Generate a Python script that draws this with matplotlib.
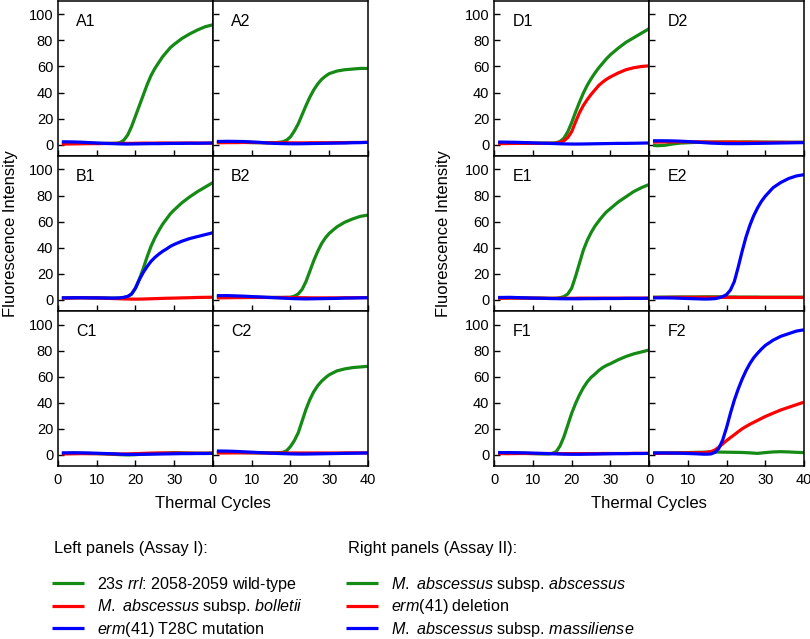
import matplotlib
matplotlib.use("Agg")
import matplotlib.pyplot as plt

plt.rcParams['font.family'] = 'Liberation Sans'
plt.rcParams['mathtext.fontset'] = 'custom'
plt.rcParams['mathtext.rm'] = 'Liberation Sans'
plt.rcParams['mathtext.it'] = 'Liberation Sans:italic'

cycles = [1, 2, 4, 6, 8, 10, 12, 14,
          15, 16, 17, 18, 19, 20, 21, 22, 23, 24, 25, 26, 27, 28, 29, 30,
          32, 34, 36, 38, 40]

# Assay I (left panels)
a1_green = [1.5, 1.5, 1.4, 1.3, 1.2, 1.0, 1.0, 1.0,
            1.1, 1.6, 3.5, 7.5, 14, 22, 30, 38, 46, 53, 58.5, 63, 67.5, 71, 74.5, 77,
            81.5, 85, 88, 90.5, 92]
a1_red = [0.5, 0.5, 0.6, 0.7, 0.8, 0.8, 0.9, 1.0,
          1.0, 1.0, 1.0, 1.0, 1.0, 1.1, 1.1, 1.2, 1.2, 1.2, 1.2, 1.3, 1.3, 1.3, 1.3, 1.2,
          1.3, 1.3, 1.2, 1.2, 1.2]
a1_blue = [2.2, 2.2, 2.1, 1.9, 1.6, 1.3, 1.0, 0.8,
           0.7, 0.6, 0.55, 0.5, 0.55, 0.6, 0.65, 0.7, 0.75, 0.8, 0.8, 0.8, 0.85, 0.9, 0.95, 1.0,
           1.0, 1.1, 1.1, 1.2, 1.3]

a2_green = [2.0, 2.0, 2.0, 1.9, 1.8, 1.6, 1.5, 1.5,
            1.5, 1.5, 1.8, 2.2, 3.5, 6, 10.5, 16, 23, 30, 36.5, 42, 46.5, 50, 52.5, 54.5,
            56.5, 57.5, 58, 58.5, 58.5]
a2_red = [1.5, 1.5, 1.6, 1.6, 1.7, 1.7, 1.6, 1.5,
          1.5, 1.5, 1.5, 1.5, 1.5, 1.4, 1.4, 1.4, 1.4, 1.4, 1.5, 1.5, 1.5, 1.5, 1.5, 1.5,
          1.6, 1.6, 1.7, 1.7, 1.8]
a2_blue = [2.5, 2.5, 2.6, 2.5, 2.4, 2.1, 1.8, 1.3,
           1.15, 1.0, 0.9, 0.8, 0.75, 0.7, 0.7, 0.7, 0.75, 0.8, 0.85, 0.9, 0.95, 1.0, 1.05, 1.1,
           1.2, 1.3, 1.5, 1.6, 1.8]

b1_green = [1.5, 1.5, 1.6, 1.7, 1.6, 1.5, 1.4, 1.3,
            1.3, 1.4, 1.8, 2.5, 4.5, 9, 16, 24, 33, 41, 47.5, 53, 58, 62, 66, 69,
            74.5, 79, 83, 86.5, 90]
b1_red = [1.3, 1.3, 1.4, 1.5, 1.5, 1.4, 1.2, 1.0,
          0.9, 0.8, 0.7, 0.6, 0.55, 0.5, 0.55, 0.6, 0.7, 0.8, 0.9, 1.0, 1.1, 1.2, 1.25, 1.3,
          1.5, 1.6, 1.8, 1.9, 2.0]
b1_blue = [1.5, 1.5, 1.6, 1.6, 1.5, 1.5, 1.4, 1.3,
           1.4, 1.5, 1.9, 2.6, 4.5, 9, 15.5, 21, 25.5, 29.5, 32.5, 35, 37.2, 39, 41, 42.5,
           45, 47, 48.5, 50, 51.5]

b2_green = [2.5, 2.5, 2.4, 2.3, 2.2, 2.0, 1.9, 1.8,
            1.8, 1.8, 1.8, 1.8, 1.9, 2.0, 2.8, 4.5, 8, 14, 22, 30, 37, 43, 47.5, 51,
            56, 59.5, 62, 64, 65]
b2_red = [1.5, 1.5, 1.6, 1.7, 1.7, 1.8, 1.8, 1.8,
          1.8, 1.8, 1.8, 1.8, 1.8, 1.7, 1.7, 1.7, 1.6, 1.6, 1.5, 1.5, 1.5, 1.5, 1.5, 1.5,
          1.5, 1.6, 1.6, 1.7, 1.7]
b2_blue = [3.2, 3.2, 3.2, 3.0, 2.8, 2.5, 2.2, 1.9,
           1.75, 1.6, 1.45, 1.3, 1.15, 1.0, 0.9, 0.8, 0.75, 0.7, 0.75, 0.8, 0.85, 0.9, 0.95, 1.0,
           1.1, 1.3, 1.4, 1.5, 1.6]

c1_green = [1.2, 1.2, 1.3, 1.2, 1.1, 1.0, 0.8, 0.5,
            0.35, 0.2, 0.1, 0.0, 0.1, 0.2, 0.4, 0.6, 0.8, 1.0, 1.1, 1.2, 1.3, 1.4, 1.6, 1.8,
            1.6, 1.4, 1.3, 1.3, 1.4]
c1_red = [0.8, 0.8, 0.9, 1.0, 1.0, 1.0, 0.9, 0.8,
          0.75, 0.7, 0.75, 0.8, 0.9, 1.0, 1.1, 1.2, 1.3, 1.4, 1.45, 1.5, 1.5, 1.5, 1.5, 1.5,
          1.4, 1.4, 1.3, 1.3, 1.3]
c1_blue = [1.6, 1.6, 1.7, 1.6, 1.5, 1.3, 1.1, 0.9,
           0.75, 0.6, 0.5, 0.4, 0.4, 0.4, 0.45, 0.5, 0.55, 0.6, 0.65, 0.7, 0.75, 0.8, 0.85, 0.9,
           1.0, 1.0, 1.1, 1.1, 1.2]

c2_green = [2.0, 2.0, 2.0, 1.9, 1.8, 1.7, 1.6, 1.6,
            1.6, 1.7, 1.8, 2.0, 3.2, 6.5, 11, 17, 26, 35, 42.5, 48.5, 53, 56.5, 59.2, 61.5,
            64.5, 66, 67, 67.5, 68]
c2_red = [1.5, 1.5, 1.5, 1.6, 1.6, 1.6, 1.6, 1.5,
          1.5, 1.5, 1.5, 1.5, 1.5, 1.5, 1.5, 1.5, 1.5, 1.5, 1.5, 1.5, 1.5, 1.5, 1.5, 1.5,
          1.5, 1.6, 1.6, 1.6, 1.6]
c2_blue = [3.0, 3.0, 2.9, 2.7, 2.4, 2.1, 1.8, 1.5,
           1.35, 1.2, 1.1, 1.0, 0.9, 0.8, 0.75, 0.7, 0.7, 0.7, 0.75, 0.8, 0.85, 0.9, 0.95, 1.0,
           1.1, 1.2, 1.3, 1.4, 1.5]

# Assay II (right panels)
d1_green = [1.5, 1.5, 1.4, 1.3, 1.2, 1.1, 1.1, 1.2,
            1.2, 1.5, 2.5, 5, 10, 17, 25, 32.5, 39.5, 45.5, 50.5, 55, 59, 62.5, 66, 69,
            74, 78.5, 82, 85.5, 89]
d1_red = [0.8, 0.8, 0.9, 1.0, 1.0, 1.0, 1.0, 1.1,
          1.1, 1.2, 1.8, 3, 5.5, 10, 17.5, 24.5, 30, 34.5, 38.5, 42, 45.5, 48, 50.2, 52,
          55, 57.5, 59, 60, 60.5]
d1_blue = [2.0, 2.0, 1.9, 1.8, 1.6, 1.4, 1.2, 1.0,
           0.9, 0.8, 0.7, 0.6, 0.55, 0.5, 0.5, 0.5, 0.55, 0.6, 0.65, 0.7, 0.75, 0.8, 0.85, 0.9,
           1.0, 1.0, 1.1, 1.2, 1.3]

d2_green = [-0.5, -0.8, -0.5, 0.5, 1.2, 1.5, 1.8, 2.0,
            2.0, 2.0, 2.0, 2.0, 2.0, 2.0, 2.0, 2.0, 2.0, 2.1, 2.1, 2.1, 2.0, 2.0, 2.0, 2.0,
            1.9, 1.9, 1.8, 1.8, 1.8]
d2_red = [2.0, 2.0, 2.1, 2.1, 2.2, 2.2, 2.2, 2.1,
          2.0, 2.0, 2.0, 2.0, 2.0, 2.0, 2.0, 2.0, 1.9, 1.9, 1.9, 1.9, 1.9, 1.9, 1.8, 1.8,
          1.8, 1.8, 1.8, 1.8, 1.8]
d2_blue = [3.0, 3.0, 3.0, 2.9, 2.7, 2.4, 2.0, 1.6,
           1.4, 1.2, 1.1, 1.0, 0.9, 0.8, 0.8, 0.8, 0.8, 0.8, 0.85, 0.9, 0.95, 1.0, 1.05, 1.1,
           1.2, 1.3, 1.4, 1.5, 1.6]

e1_green = [1.5, 1.5, 1.6, 1.5, 1.4, 1.3, 1.2, 1.1,
            1.1, 1.2, 1.6, 2.5, 4.5, 9, 18, 28, 38, 45.5, 51.5, 56.5, 60.5, 64.2, 67.5, 70,
            75, 79, 83, 86, 88.5]
e1_red = [1.2, 1.2, 1.3, 1.3, 1.3, 1.3, 1.3, 1.2,
          1.2, 1.2, 1.2, 1.2, 1.2, 1.2, 1.2, 1.3, 1.3, 1.3, 1.3, 1.3, 1.3, 1.3, 1.3, 1.3,
          1.3, 1.3, 1.3, 1.3, 1.3]
e1_blue = [1.8, 1.8, 1.9, 1.7, 1.5, 1.3, 1.2, 1.0,
           0.95, 0.9, 0.85, 0.8, 0.8, 0.8, 0.8, 0.8, 0.85, 0.9, 0.9, 0.9, 0.95, 1.0, 1.0, 1.0,
           1.0, 1.1, 1.1, 1.1, 1.2]

e2_green = [2.0, 2.0, 2.1, 2.1, 2.2, 2.2, 2.2, 2.3,
            2.3, 2.3, 2.3, 2.3, 2.3, 2.2, 2.2, 2.2, 2.1, 2.1, 2.1, 2.1, 2.1, 2.1, 2.0, 2.0,
            2.0, 2.0, 2.0, 2.0, 2.0]
e2_red = [1.8, 1.8, 1.8, 1.9, 1.9, 1.9, 1.9, 1.9,
          1.9, 1.9, 1.9, 1.9, 1.9, 1.8, 1.8, 1.8, 1.8, 1.8, 1.8, 1.8, 1.8, 1.8, 1.8, 1.8,
          1.8, 1.8, 1.8, 1.8, 1.8]
e2_blue = [1.5, 1.5, 1.5, 1.4, 1.2, 1.0, 0.8, 0.6,
           0.6, 0.7, 0.9, 1.5, 2.5, 4, 7.5, 14, 25, 37, 48, 57, 64.5, 70.5, 75.5, 79.5,
           86, 90, 93, 95, 96]

f1_green = [1.5, 1.5, 1.4, 1.3, 1.2, 1.0, 0.8, 0.8,
            1.2, 2.5, 7, 14, 23, 32, 39.5, 46, 51.5, 56, 59.5, 62, 64.8, 67, 68.7, 70,
            73, 75.5, 77.5, 79, 80.5]
f1_red = [1.0, 1.0, 1.0, 1.1, 1.1, 1.1, 1.1, 1.1,
          1.1, 1.1, 1.0, 1.0, 1.0, 1.0, 1.0, 1.0, 1.0, 1.0, 1.0, 1.0, 1.05, 1.1, 1.1, 1.1,
          1.1, 1.1, 1.2, 1.2, 1.2]
f1_blue = [1.8, 1.8, 1.8, 1.7, 1.6, 1.4, 1.2, 1.0,
           0.9, 0.8, 0.7, 0.6, 0.55, 0.5, 0.5, 0.5, 0.55, 0.6, 0.65, 0.7, 0.75, 0.8, 0.85, 0.9,
           1.0, 1.0, 1.1, 1.1, 1.2]

f2_green = [1.5, 1.5, 1.6, 1.6, 1.7, 1.8, 2.0, 2.1,
            2.15, 2.2, 2.2, 2.2, 2.15, 2.1, 2.05, 2.0, 1.95, 1.9, 1.75, 1.6, 1.4, 1.2, 1.5, 1.8,
            2.3, 2.5, 2.3, 2.0, 1.8]
f2_red = [1.2, 1.2, 1.3, 1.4, 1.5, 1.6, 1.7, 1.8,
          2.1, 2.6, 3.8, 6, 8.5, 11, 13.3, 15.5, 17.8, 20, 21.8, 23.5, 25, 26.5, 28, 29.5,
          32, 34.5, 36.5, 38.5, 40.5]
f2_blue = [1.5, 1.5, 1.5, 1.4, 1.3, 1.1, 0.9, 0.6,
           0.6, 0.8, 2, 5, 11.5, 21, 32, 42, 50.5, 58, 64.5, 70, 74.5, 78, 81.2, 84,
           88, 91, 93, 95, 96]

left_panels = [["A1", "A2"], ["B1", "B2"], ["C1", "C2"]]
right_panels = [["D1", "D2"], ["E1", "E2"], ["F1", "F2"]]
series = {
    "A1": (a1_green, a1_red, a1_blue), "A2": (a2_green, a2_red, a2_blue),
    "B1": (b1_green, b1_red, b1_blue), "B2": (b2_green, b2_red, b2_blue),
    "C1": (c1_green, c1_red, c1_blue), "C2": (c2_green, c2_red, c2_blue),
    "D1": (d1_green, d1_red, d1_blue), "D2": (d2_green, d2_red, d2_blue),
    "E1": (e1_green, e1_red, e1_blue), "E2": (e2_green, e2_red, e2_blue),
    "F1": (f1_green, f1_red, f1_blue), "F2": (f2_green, f2_red, f2_blue),
}

left_labels = [r"$\mathit{23s\ rrl}$: 2058-2059 wild-type",
               r"$\mathit{M.\ abscessus}$ subsp. $\mathit{bolletii}$",
               r"$\mathit{erm}$(41) T28C mutation"]
right_labels = [r"$\mathit{M.\ abscessus}$ subsp. $\mathit{abscessus}$",
                r"$\mathit{erm}$(41) deletion",
                r"$\mathit{M.\ abscessus}$ subsp. $\mathit{massiliense}$"]

colors = ["#158a15", "#ff0000", "#0000ff"]

fig = plt.figure(figsize=(8.1, 6.39), dpi=100)


def draw_group(panels, left, right):
    gs = fig.add_gridspec(3, 2, left=left, right=right, top=0.999, bottom=0.2707,
                          wspace=0, hspace=0)
    lines = None
    for r in range(3):
        for c in range(2):
            name = panels[r][c]
            ax = fig.add_subplot(gs[r, c])
            lines = []
            for vals, col in zip(series[name], colors):
                ln, = ax.plot(cycles, vals, color=col, lw=2.3, solid_capstyle='butt')
                lines.append(ln)
            ax.set_xlim(0, 40)
            ax.set_ylim(-8.5, 110.5)
            ax.set_yticks([0, 20, 40, 60, 80, 100])
            ax.set_xticks([0, 10, 20, 30] if c == 0 else [0, 10, 20, 30, 40])
            ax.tick_params(direction='in', length=4.5, width=1, labelsize=10.5, pad=3.5,
                           labelleft=(c == 0), labelbottom=(r == 2))
            ax.tick_params(axis='x', pad=5)
            for sp in ax.spines.values():
                sp.set_linewidth(1.1)
            ax.text(0.117, 0.868, name, transform=ax.transAxes, fontsize=11.5,
                    va='center', ha='left')
    return lines


left_lines = draw_group(left_panels, 0.0716, 0.4543)
right_lines = draw_group(right_panels, 0.6102, 0.9926)

fig.text(0.263, 0.2128, "Thermal Cycles", ha='center', va='center', fontsize=12)
fig.text(0.801, 0.2128, "Thermal Cycles", ha='center', va='center', fontsize=12)
fig.text(0.0135, 0.635, "Fluorescence Intensity", rotation=90, ha='center', va='center', fontsize=12)
fig.text(0.548, 0.635, "Fluorescence Intensity", rotation=90, ha='center', va='center', fontsize=12)

fig.text(0.0667, 0.1424, "Left panels (Assay I):", ha='left', va='center', fontsize=11.8)
fig.text(0.4296, 0.1424, "Right panels (Assay II):", ha='left', va='center', fontsize=11.8)

legend_kw = dict(loc='upper left', frameon=False, fontsize=11.6, handlelength=2.0,
                 handletextpad=0.75, labelspacing=0.22, borderpad=0, borderaxespad=0)
fig.legend(left_lines, left_labels, bbox_to_anchor=(0.0645, 0.1005), **legend_kw)
fig.legend(right_lines, right_labels, bbox_to_anchor=(0.4275, 0.1005), **legend_kw)

fig.savefig("out.png", dpi=100)
